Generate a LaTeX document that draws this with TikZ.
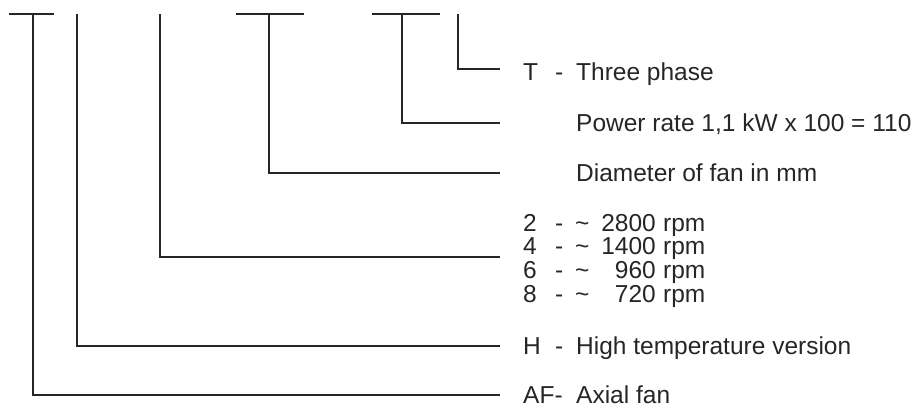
\documentclass[tikz,border=0pt]{standalone}
\usepackage{fontspec}
\setmainfont{Liberation Sans}
\begin{document}
\begin{tikzpicture}[x=1pt,y=-1pt,
  ln/.style={line width=1.2pt, draw=black!85},
  lbl/.style={inner sep=0pt, anchor=base west, font=\fontsize{24.5}{24.5}\selectfont, text=black!85},
  num/.style={lbl, anchor=base east}]
\useasboundingbox (0,0) rectangle (918,407);
% top ends
\coordinate (t1) at (33,14);
\coordinate (t2) at (77,14);
\coordinate (t3) at (160,14);
\coordinate (t4) at (269,14);
\coordinate (t5) at (402,14);
\coordinate (t6) at (458,14);
% bars
\coordinate (b1l) at (9,14);   \coordinate (b1r) at (54,14);
\coordinate (b4l) at (236,14); \coordinate (b4r) at (304,14);
\coordinate (b5l) at (372,14); \coordinate (b5r) at (440,14);
% right ends
\coordinate (e6) at (500,69);
\coordinate (e5) at (500,123);
\coordinate (e4) at (500,173);
\coordinate (e3) at (500,257);
\coordinate (e2) at (500,346);
\coordinate (e1) at (500,395);
\draw[ln] (b1l) -- (b1r);
\draw[ln] (b4l) -- (b4r);
\draw[ln] (b5l) -- (b5r);
\draw[ln] (t6) |- (e6);
\draw[ln] (t5) |- (e5);
\draw[ln] (t4) |- (e4);
\draw[ln] (t3) |- (e3);
\draw[ln] (t2) |- (e2);
\draw[ln] (t1) |- (e1);
% texts
\node[lbl] (tc) at (523,80) {T};
\node[lbl] (td) at (555,80) {-};
\node[lbl] (tt) at (576,80) {Three phase};
\node[lbl] (pw) at (576,131) {Power rate 1,1 kW x 100 = 110};
\node[lbl] (dm) at (576,181) {Diameter of fan in mm};
\node[lbl] (r2c) at (523,231) {2};
\node[lbl] (r2d) at (555,231) {-};
\node[lbl] (r2t) at (575,231) {\textasciitilde};
\node[num] (r2n) at (656,231) {2800};
\node[lbl] (r2r) at (663,231) {rpm};
\node[lbl] (r4c) at (523,254.8) {4};
\node[lbl] (r4d) at (555,254.8) {-};
\node[lbl] (r4t) at (575,254.8) {\textasciitilde};
\node[num] (r4n) at (656,254.8) {1400};
\node[lbl] (r4r) at (663,254.8) {rpm};
\node[lbl] (r6c) at (523,278.6) {6};
\node[lbl] (r6d) at (555,278.6) {-};
\node[lbl] (r6t) at (575,278.6) {\textasciitilde};
\node[num] (r6n) at (656,278.6) {960};
\node[lbl] (r6r) at (663,278.6) {rpm};
\node[lbl] (r8c) at (523,302.4) {8};
\node[lbl] (r8d) at (555,302.4) {-};
\node[lbl] (r8t) at (575,302.4) {\textasciitilde};
\node[num] (r8n) at (656,302.4) {720};
\node[lbl] (r8r) at (663,302.4) {rpm};
\node[lbl] (hc) at (523,354) {H};
\node[lbl] (hd) at (555,354) {-};
\node[lbl] (ht) at (576,354) {High temperature version};
\node[lbl] (afc) at (523,403.5) {AF-};
\node[lbl] (aft) at (576,403.5) {Axial fan};
\end{tikzpicture}
\end{document}
